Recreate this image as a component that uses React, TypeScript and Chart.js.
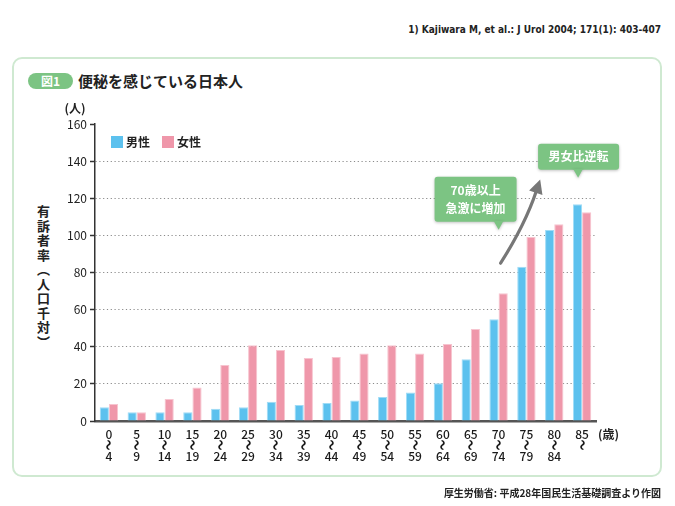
import React, { useEffect, useRef } from "react";
import { Chart, registerables } from "chart.js";

Chart.register(...registerables);

// ---- Data ----
const ageFrom = ["0", "5", "10", "15", "20", "25", "30", "35", "40", "45", "50", "55", "60", "65", "70", "75", "80", "85"];
const ageTo = ["4", "9", "14", "19", "24", "29", "34", "39", "44", "49", "54", "59", "64", "69", "74", "79", "84", ""];
const maleRates = [7.4, 4.7, 4.7, 4.7, 6.6, 7.4, 10.4, 8.6, 9.7, 11.1, 12.9, 15.4, 20.4, 33.2, 54.8, 83.1, 102.9, 116.8];
const femaleRates = [9.2, 4.7, 11.8, 18.1, 30.2, 40.8, 38.3, 33.9, 34.5, 36.4, 40.8, 36.4, 41.5, 49.6, 68.8, 99.1, 106.0, 112.4];
const seriesNames = ["男性", "女性"];
const yMin = 0;
const yMax = 160;
const yStep = 20;

const citation = "1) Kajiwara M, et al.: J Urol 2004; 171(1): 403-407";
const figNo = "図1";
const figTitle = "便秘を感じている日本人";
const yTitle = "有訴者率（人口千対）";
const yUnit = "(人)";
const xUnit = "(歳)";
const rangeMark = "〜";
const callout1 = ["70歳以上", "急激に増加"];
const callout2 = ["男女比逆転"];
const source = "厚生労働省: 平成28年国民生活基礎調査より作図";

const FONT = "'Noto Sans CJK JP', 'Noto Sans', sans-serif";
const BLUE = "#5cc1ee";
const PINK = "#ef97aa";
const GREEN = "#7cc483";

function roundRect(ctx: CanvasRenderingContext2D, x: number, y: number, w: number, h: number, r: number) {
  ctx.beginPath();
  ctx.moveTo(x + r, y);
  ctx.lineTo(x + w - r, y);
  ctx.quadraticCurveTo(x + w, y, x + w, y + r);
  ctx.lineTo(x + w, y + h - r);
  ctx.quadraticCurveTo(x + w, y + h, x + w - r, y + h);
  ctx.lineTo(x + r, y + h);
  ctx.quadraticCurveTo(x, y + h, x, y + h - r);
  ctx.lineTo(x, y + r);
  ctx.quadraticCurveTo(x, y, x + r, y);
  ctx.closePath();
}

function drawCallout(
  ctx: CanvasRenderingContext2D,
  tipX: number,
  tipY: number,
  boxLeft: number,
  w: number,
  h: number,
  lines: string[]
) {
  const bottom = tipY - 8;
  const top = bottom - h;
  ctx.save();
  ctx.shadowColor = "rgba(0,0,0,0.25)";
  ctx.shadowBlur = 3;
  ctx.shadowOffsetY = 1;
  ctx.fillStyle = GREEN;
  roundRect(ctx, boxLeft, top, w, h, 3);
  ctx.fill();
  ctx.beginPath();
  ctx.moveTo(tipX - 5, bottom - 1);
  ctx.lineTo(tipX, tipY);
  ctx.lineTo(tipX + 5, bottom - 1);
  ctx.closePath();
  ctx.fill();
  ctx.restore();
  ctx.save();
  ctx.fillStyle = "#ffffff";
  ctx.font = `bold 12px ${FONT}`;
  ctx.textAlign = "center";
  ctx.textBaseline = "middle";
  const cx = boxLeft + w / 2;
  const lh = 18;
  const startY = top + h / 2 - ((lines.length - 1) * lh) / 2;
  lines.forEach((l, i) => ctx.fillText(l, cx, startY + i * lh));
  ctx.restore();
}

const decorPlugin = {
  id: "decor",
  afterDatasetsDraw(chart: any) {
    const { ctx, chartArea, scales } = chart;
    const x = scales.x;
    const y = scales.y;
    ctx.save();

    // Category labels: "from", a vertical wave, "to"
    const labels: string[][] = chart.data.labels;
    ctx.fillStyle = "#1a1a1a";
    ctx.textAlign = "center";
    ctx.textBaseline = "middle";
    labels.forEach((lab, i) => {
      const px = x.getPixelForValue(i);
      ctx.font = `500 12px ${FONT}`;
      ctx.fillText(lab[0], px, chartArea.bottom + 13);
      if (lab[2]) ctx.fillText(lab[2], px, chartArea.bottom + 35);
      ctx.save();
      ctx.translate(px, chartArea.bottom + 24);
      ctx.rotate(Math.PI / 2);
      ctx.scale(1, 1.3);
      ctx.font = `bold 11px ${FONT}`;
      ctx.fillText(lab[1], 0, 0);
      ctx.restore();
    });

    // Legend
    const ds = chart.data.datasets;
    let lx = chartArea.left + 16;
    const ly = chartArea.top + 12;
    ctx.font = `bold 12px ${FONT}`;
    ctx.textBaseline = "middle";
    ctx.textAlign = "left";
    ds.forEach((d: any) => {
      ctx.fillStyle = d.backgroundColor;
      ctx.fillRect(lx, ly, 12, 12);
      ctx.fillStyle = "#222";
      ctx.fillText(d.label, lx + 15, ly + 6.5);
      lx += 51;
    });

    // Unit labels
    ctx.fillStyle = "#222";
    ctx.font = `bold 12px ${FONT}`;
    ctx.textAlign = "center";
    ctx.fillText(yUnit, chartArea.left - 20, chartArea.top - 16);
    ctx.textAlign = "left";
    ctx.fillText(xUnit, chartArea.right + 2, chartArea.bottom + 13);

    // Curved arrow
    const sx = x.getPixelForValue(14) + 2;
    const sy = y.getPixelForValue(85);
    const cx = x.getPixelForValue(15) - 1;
    const cy = y.getPixelForValue(106);
    const ex = x.getPixelForValue(15) + 10;
    const ey = y.getPixelForValue(124);
    ctx.strokeStyle = "#777";
    ctx.lineWidth = 3.2;
    ctx.lineCap = "round";
    ctx.beginPath();
    ctx.moveTo(sx, sy);
    ctx.quadraticCurveTo(cx, cy, ex, ey);
    ctx.stroke();
    const dx = ex - cx;
    const dy = ey - cy;
    const len = Math.hypot(dx, dy);
    const ux = dx / len;
    const uy = dy / len;
    const tipX = ex + ux * 12;
    const tipY = ey + uy * 12;
    const bx = ex - ux * 2;
    const by = ey - uy * 2;
    ctx.fillStyle = "#777";
    ctx.beginPath();
    ctx.moveTo(tipX, tipY);
    ctx.lineTo(bx - uy * 7, by + ux * 7);
    ctx.lineTo(bx + uy * 7, by - ux * 7);
    ctx.closePath();
    ctx.fill();

    // Callouts
    const t1x = x.getPixelForValue(14);
    const t1y = y.getPixelForValue(103);
    drawCallout(ctx, t1x, t1y, t1x - 64, 82, 45, callout1);
    const t2x = x.getPixelForValue(17) - 4;
    const t2y = y.getPixelForValue(131);
    drawCallout(ctx, t2x, t2y, t2x - 40, 81, 26, callout2);

    ctx.restore();
  },
};

export default function App() {
  const canvasRef = useRef<HTMLCanvasElement | null>(null);

  useEffect(() => {
    if (!canvasRef.current) return;
    const labels = ageFrom.map((a, i) => [a, rangeMark, ageTo[i]]);
    const chart = new Chart(canvasRef.current, {
      type: "bar",
      data: {
        labels,
        datasets: [
          {
            label: seriesNames[0],
            data: maleRates,
            backgroundColor: BLUE,
            borderColor: "#9fdcf6",
            borderWidth: 1,
            categoryPercentage: 0.66,
            barPercentage: 1.0,
          },
          {
            label: seriesNames[1],
            data: femaleRates,
            backgroundColor: PINK,
            borderColor: "#f7c4cf",
            borderWidth: 1,
            categoryPercentage: 0.66,
            barPercentage: 1.0,
          },
        ],
      },
      options: {
        responsive: false,
        devicePixelRatio: 1,
        animation: false,
        layout: { padding: { left: 60, right: 79, top: 124, bottom: 45 } },
        plugins: {
          legend: { display: false },
          tooltip: { enabled: false },
          title: { display: false },
        },
        scales: {
          x: {
            type: "category",
            grid: { display: false },
            border: { display: true, color: "#555", width: 2.5 },
            ticks: { display: false, autoSkip: false },
            afterFit: (scale: any) => {
              scale.height = 40;
            },
          },
          y: {
            min: yMin,
            max: yMax,
            ticks: {
              stepSize: yStep,
              padding: 3,
              color: "#222",
              font: { family: FONT, size: 12 },
            },
            grid: {
              color: (c: any) =>
                c.tick && c.tick.value > yMin && c.tick.value < yMax ? "#8a8a8a" : "rgba(0,0,0,0)",
              lineWidth: 1,
              drawTicks: true,
              tickLength: 5,
              tickColor: "#333",
              tickWidth: 1.5,
            },
            border: { display: true, color: "#333", width: 1.5, dash: [1.2, 2.6] },
            afterFit: (scale: any) => {
              scale.width = 35;
            },
          },
        },
      },
      plugins: [decorPlugin],
    });
    return () => chart.destroy();
  }, []);

  const abs: React.CSSProperties = { position: "absolute", margin: 0 };

  return (
    <div
      style={{
        position: "absolute",
        left: 0,
        top: 0,
        width: 675,
        height: 506,
        background: "#fff",
        fontFamily: FONT,
        color: "#222",
        overflow: "hidden",
      }}
    >
      <div
        style={{
          ...abs,
          right: 14,
          top: 22,
          fontSize: 10,
          fontWeight: "bold",
          fontFamily: "'Liberation Sans Narrow', 'DejaVu Sans Condensed', 'Noto Sans', sans-serif",
          whiteSpace: "nowrap",
          lineHeight: "16px",
        }}
      >
        {citation}
      </div>
      <div
        style={{
          ...abs,
          left: 12,
          top: 57,
          width: 650,
          height: 420,
          border: "2px solid #cfe9d1",
          borderRadius: 10,
          boxSizing: "border-box",
        }}
      />
      <div
        style={{
          ...abs,
          left: 28,
          top: 73,
          width: 45,
          height: 16,
          borderRadius: 8,
          background: GREEN,
          color: "#fff",
          fontSize: 12,
          fontWeight: "bold",
          lineHeight: "16px",
          textAlign: "center",
        }}
      >
        {figNo}
      </div>
      <div
        style={{
          ...abs,
          left: 78,
          top: 71,
          fontSize: 15,
          fontWeight: "bold",
          lineHeight: "20px",
          whiteSpace: "nowrap",
        }}
      >
        {figTitle}
      </div>
      <div
        style={{
          ...abs,
          left: 35,
          top: 205,
          writingMode: "vertical-rl",
          fontSize: 13,
          fontWeight: "bold",
          letterSpacing: 1.5,
          lineHeight: "16px",
          whiteSpace: "nowrap",
        }}
      >
        {yTitle}
      </div>
      <canvas ref={canvasRef} width={675} height={506} style={{ ...abs, left: 0, top: 0, width: 675, height: 506 }} />
      <div
        style={{
          ...abs,
          right: 14,
          top: 485,
          fontSize: 10,
          fontWeight: "bold",
          lineHeight: "16px",
          whiteSpace: "nowrap",
        }}
      >
        {source}
      </div>
    </div>
  );
}
